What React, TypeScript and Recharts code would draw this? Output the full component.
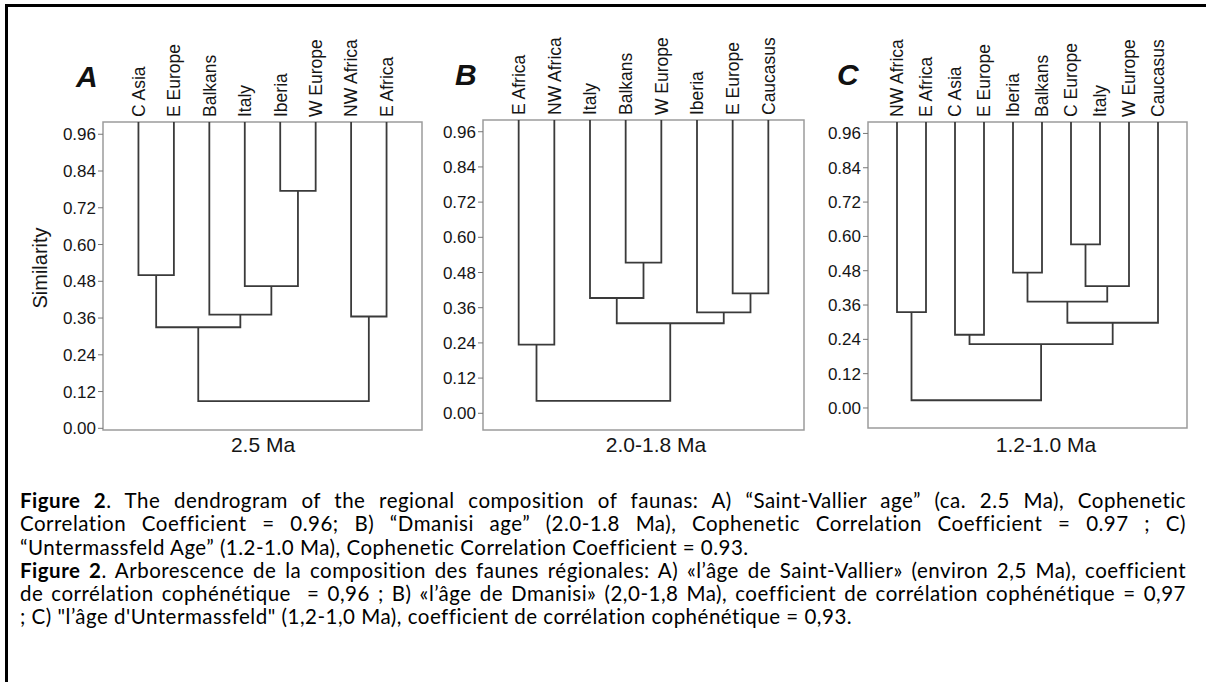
import React from "react";
import { LineChart, Line, XAxis, YAxis, ReferenceArea } from "recharts";

type Merge = [number, number, number];

// similarity ticks shared by the three panels
const yTicks = [0, 0.12, 0.24, 0.36, 0.48, 0.6, 0.72, 0.84, 0.96];

// A) 2.5 Ma
const leavesA = ["C Asia", "E Europe", "Balkans", "Italy", "Iberia", "W Europe", "NW Africa", "E Africa"];
// [clusterA, clusterB, similarity]; new clusters get ids n, n+1, ...
const mergesA: Merge[] = [
  [4, 5, 0.775],
  [0, 1, 0.5],
  [3, 8, 0.464],
  [2, 10, 0.371],
  [6, 7, 0.365],
  [9, 11, 0.33],
  [13, 12, 0.089],
];

// B) 2.0-1.8 Ma
const leavesB = ["E Africa", "NW Africa", "Italy", "Balkans", "W Europe", "Iberia", "E Europe", "Caucasus"];
const mergesB: Merge[] = [
  [3, 4, 0.514],
  [6, 7, 0.409],
  [2, 8, 0.393],
  [5, 9, 0.344],
  [10, 11, 0.307],
  [0, 1, 0.234],
  [13, 12, 0.042],
];

// C) 1.2-1.0 Ma
const leavesC = ["NW Africa", "E Africa", "C Asia", "E Europe", "Iberia", "Balkans", "C Europe", "Italy", "W Europe", "Caucasus"];
const mergesC: Merge[] = [
  [6, 7, 0.572],
  [4, 5, 0.473],
  [10, 8, 0.426],
  [11, 12, 0.372],
  [0, 1, 0.335],
  [13, 9, 0.298],
  [2, 3, 0.256],
  [16, 15, 0.223],
  [14, 17, 0.027],
];

const AXIS_FONT = "'Liberation Sans', Arial, sans-serif";
const LINE = "#3a3a3a";

function buildLinks(leaves: string[], merges: Merge[], top: number) {
  const pos = leaves.map((_, i) => i + 1);
  const hgt = leaves.map(() => top);
  return merges.map(([a, b, h]) => {
    const pts = [
      { x: pos[a], y: hgt[a] },
      { x: pos[a], y: h },
      { x: pos[b], y: h },
      { x: pos[b], y: hgt[b] },
    ];
    pos.push((pos[a] + pos[b]) / 2);
    hgt.push(h);
    return pts;
  });
}

function Dendrogram(props: {
  leaves: string[];
  merges: Merge[];
  yMin: number;
  left: number;
  plotLeft: number;
  plotRight: number;
  plotTop: number;
  plotBottom: number;
}) {
  const { leaves, merges, yMin, left, plotLeft, plotRight, plotTop, plotBottom } = props;
  const height = 470;
  const width = plotRight - left + 18;
  const n = leaves.length;
  const links = buildLinks(leaves, merges, 1);
  const tips = leaves.map((name, i) => ({ x: i + 1, y: 1, name }));

  const leafTick = (p: any) => {
    const { x, y, payload } = p;
    const name = leaves[Math.round(payload.value) - 1] ?? "";
    return (
      <text
        x={x}
        y={y}
        dy="0.36em"
        transform={`rotate(-90, ${x}, ${y})`}
        textAnchor="start"
        fontSize={17.5}
        fontFamily={AXIS_FONT}
        fill="#151515"
      >
        {name}
      </text>
    );
  };

  return (
    <div style={{ position: "absolute", left, top: 0 }}>
      <LineChart width={width} height={height} margin={{ top: 0, right: 18, bottom: 10, left: 10 }}>
        <XAxis
          xAxisId="top"
          orientation="top"
          type="number"
          dataKey="x"
          domain={[0, n + 1]}
          ticks={tips.map((t) => t.x)}
          interval={0}
          height={plotTop}
          tickSize={0}
          tickMargin={5}
          axisLine={false}
          tickLine={false}
          tick={leafTick}
          allowDataOverflow
        />
        <XAxis
          xAxisId="bottom"
          type="number"
          dataKey="x"
          domain={[0, n + 1]}
          height={height - 10 - plotBottom}
          tick={false}
          axisLine={false}
          tickLine={false}
          allowDataOverflow
        />
        <YAxis
          type="number"
          domain={[yMin, 1]}
          ticks={yTicks}
          interval={0}
          width={plotLeft - left - 10}
          tickFormatter={(v: number) => v.toFixed(2)}
          tick={{ fontSize: 17, fontFamily: AXIS_FONT, fill: "#151515" }}
          tickSize={5}
          tickMargin={2}
          tickLine={{ stroke: "#777", strokeWidth: 1 }}
          axisLine={false}
          allowDataOverflow
        />
        <ReferenceArea
          xAxisId="bottom"
          x1={0}
          x2={n + 1}
          y1={yMin}
          y2={1}
          fill="none"
          fillOpacity={0}
          stroke="#9c9c9c"
          strokeWidth={1.5}
          ifOverflow="visible"
        />
        <Line
          xAxisId="top"
          data={tips}
          dataKey="y"
          stroke="none"
          dot={false}
          activeDot={false}
          isAnimationActive={false}
        />
        {links.map((pts, i) => (
          <Line
            key={i}
            xAxisId="bottom"
            data={pts}
            dataKey="y"
            type="linear"
            stroke={LINE}
            strokeWidth={1.8}
            dot={false}
            activeDot={false}
            isAnimationActive={false}
          />
        ))}
      </LineChart>
    </div>
  );
}

const CAPTION_FONT = "Lato, 'Open Sans', sans-serif";

function CapLine({ children, last }: { children: React.ReactNode; last?: boolean }) {
  return (
    <div style={{ textAlign: "justify", textAlignLast: last ? "left" : "justify" } as React.CSSProperties}>
      {children}
    </div>
  );
}

export default function App() {
  const titleStyle = { fontFamily: AXIS_FONT, fontSize: 21, fill: "#151515" };
  const letterStyle = { fontFamily: AXIS_FONT, fontSize: 30, fontWeight: 700, fontStyle: "italic", fill: "#111" };
  return (
    <div style={{ position: "absolute", left: 0, top: 0, width: 1206, height: 682, overflow: "hidden", background: "#fff" }}>
      <div
        style={{
          position: "absolute",
          left: 5,
          top: 4,
          width: 1300,
          height: 800,
          borderTop: "3px solid #000",
          borderLeft: "3px solid #000",
        }}
      />
      <Dendrogram leaves={leavesA} merges={mergesA} yMin={-0.0055} left={0} plotLeft={103} plotRight={422} plotTop={122} plotBottom={430} />
      <Dendrogram leaves={leavesB} merges={mergesB} yMin={-0.057} left={380} plotLeft={483} plotRight={804} plotTop={120} plotBottom={430} />
      <Dendrogram leaves={leavesC} merges={mergesC} yMin={-0.07} left={765} plotLeft={868} plotRight={1187} plotTop={122} plotBottom={428} />

      <svg width={1206} height={482} style={{ position: "absolute", left: 0, top: 0, pointerEvents: "none" }}>
        <text x={76} y={87} style={letterStyle as any}>A</text>
        <text x={455} y={85} style={letterStyle as any}>B</text>
        <text x={837} y={85} style={letterStyle as any}>C</text>
        <text x={263} y={452} textAnchor="middle" style={titleStyle}>2.5 Ma</text>
        <text x={656} y={452} textAnchor="middle" style={titleStyle}>2.0-1.8 Ma</text>
        <text x={1046} y={452} textAnchor="middle" style={titleStyle}>1.2-1.0 Ma</text>
        <text x={47} y={268} transform="rotate(-90, 47, 268)" textAnchor="middle" style={{ fontFamily: AXIS_FONT, fontSize: 20, fill: "#151515" }}>
          Similarity
        </text>
      </svg>

      <div
        style={{
          position: "absolute",
          left: 20,
          top: 489,
          width: 1166,
          fontFamily: CAPTION_FONT,
          fontSize: 20.5,
          letterSpacing: 0.5,
          lineHeight: "23.3px",
          color: "#000",
        }}
      >
        <CapLine>
          <b>Figure 2</b>. The dendrogram of the regional composition of faunas: A) “Saint-Vallier age” (ca. 2.5 Ma), Cophenetic
        </CapLine>
        <CapLine>
          Correlation Coefficient = 0.96; B) “Dmanisi age” (2.0-1.8 Ma), Cophenetic Correlation Coefficient = 0.97 ; C)
        </CapLine>
        <CapLine last>“Untermassfeld Age” (1.2-1.0 Ma), Cophenetic Correlation Coefficient = 0.93.</CapLine>
        <CapLine>
          <b>Figure 2</b>. Arborescence de la composition des faunes régionales: A) «l’âge de Saint-Vallier» (environ 2,5 Ma), coefficient
        </CapLine>
        <CapLine>
          de corrélation cophénétique &nbsp;= 0,96 ; B) «l’âge de Dmanisi» (2,0-1,8 Ma), coefficient de corrélation cophénétique = 0,97
        </CapLine>
        <CapLine last>; C) "l’âge d'Untermassfeld" (1,2-1,0 Ma), coefficient de corrélation cophénétique = 0,93.</CapLine>
      </div>
    </div>
  );
}
